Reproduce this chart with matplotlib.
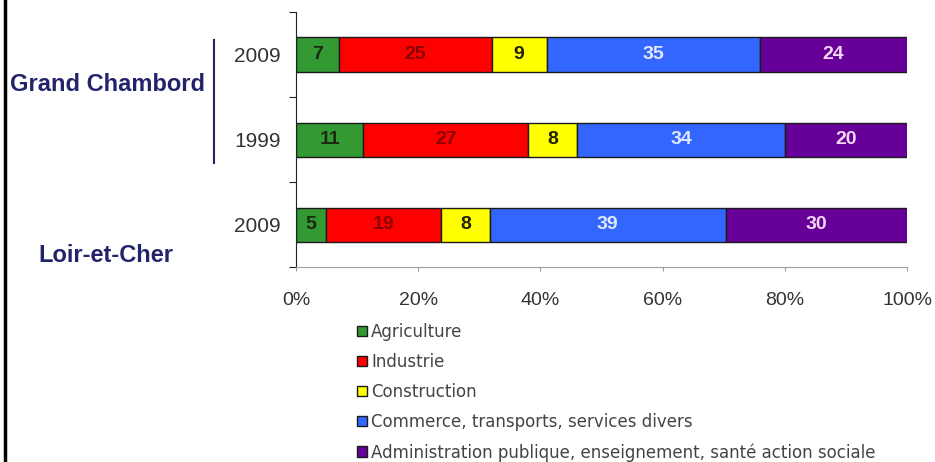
import numpy as np
import matplotlib
matplotlib.use("Agg")
import matplotlib.pyplot as plt
from matplotlib.lines import Line2D

plt.rcParams['font.family'] = ['Liberation Sans', 'DejaVu Sans']

# rows from top to bottom
years = ['2009', '1999', '2009']
sectors = ['Agriculture', 'Industrie', 'Construction',
           'Commerce, transports, services divers',
           'Administration publique, enseignement, santé action sociale']
agriculture = [7, 11, 5]
industrie = [25, 27, 19]
construction = [9, 8, 8]
commerce = [35, 34, 39]
administration = [24, 20, 30]

colors = ['#339933', '#FF0000', '#FFFF00', '#3366FF', '#660099']
text_colors = ['#1a2a10', '#8b0000', '#222200', '#dfe8ff', '#f3d6f3']

values = np.array([agriculture, industrie, construction, commerce, administration], dtype=float)
pct = values / values.sum(axis=0) * 100

fig = plt.figure(figsize=(9.35, 4.62), dpi=100)
ax = fig.add_axes([296/935, 1 - 267/462, 611/935, 255/462])

ypos = np.array([2, 1, 0])
left = np.zeros(3)
handles = []
for i in range(len(sectors)):
    bars = ax.barh(ypos, pct[i], left=left, height=0.4, color=colors[i],
                   edgecolor='#1a1a1a', linewidth=1.0, label=sectors[i])
    handles.append(bars)
    for j in range(3):
        ax.text(left[j] + pct[i][j] / 2, ypos[j], f'{int(values[i][j])}',
                ha='center', va='center', fontsize=14, fontweight='bold',
                color=text_colors[i])
    left += pct[i]

ax.set_xlim(0, 100)
ax.set_ylim(-0.5, 2.5)
ax.set_xticks(np.arange(0, 101, 20))
ax.set_xticklabels([f'{v}%' for v in range(0, 101, 20)], fontsize=14, color='#333333')
ax.tick_params(axis='x', length=3, color='#999999', pad=15)

ax.set_yticks([-0.5, 0.5, 1.5, 2.5])
ax.set_yticklabels([])
ax.tick_params(axis='y', which='major', length=5, color='#222222')
ax.set_yticks(ypos, minor=True)
ax.set_yticklabels(years, minor=True, fontsize=15, color='#333333')
ax.tick_params(axis='y', which='minor', length=0, pad=11)

for s in ['top', 'right']:
    ax.spines[s].set_visible(False)
ax.spines['left'].set_color('#222222')
ax.spines['bottom'].set_color('#a0a0a0')

# group labels
fig.text(108/935, 1 - 85/462, 'Grand Chambord', ha='center', va='center',
         fontsize=17, fontweight='bold', color='#23236b')
fig.text(106/935, 1 - 255/462, 'Loir-et-Cher', ha='center', va='center',
         fontsize=17, fontweight='bold', color='#23236b')
fig.add_artist(Line2D([214/935, 214/935], [1 - 40/462, 1 - 163/462],
                      color='#23236b', linewidth=1.5))

# border on the left
fig.add_artist(Line2D([5/935, 5/935], [0, 1], color='black', linewidth=2.5))

leg = fig.legend(handles=handles, labels=sectors, loc='upper left',
                 bbox_to_anchor=(357/935, 1 - 323/462), frameon=False,
                 prop={'family': 'DejaVu Sans', 'size': 12},
                 labelspacing=0.72, handlelength=0.6,
                 handleheight=0.6, handletextpad=0.25, borderpad=0,
                 borderaxespad=0)
for t in leg.get_texts():
    t.set_color('#444444')

fig.savefig('out.png', dpi=100)
